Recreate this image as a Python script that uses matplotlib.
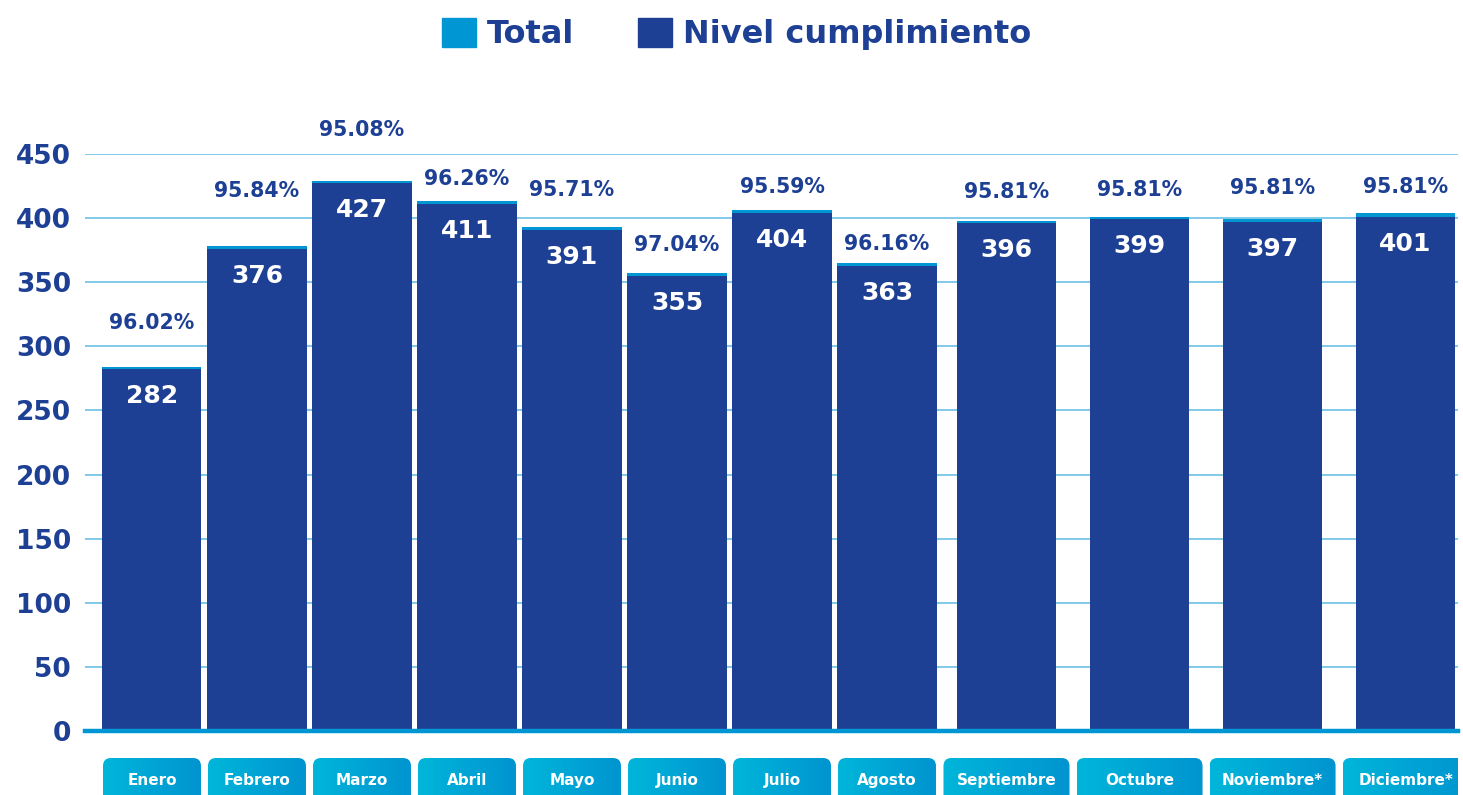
import numpy as np
import matplotlib.pyplot as plt
from matplotlib.patches import FancyBboxPatch, Patch
from matplotlib.colors import LinearSegmentedColormap

months = ["Enero", "Febrero", "Marzo", "Abril", "Mayo", "Junio", "Julio",
          "Agosto", "Septiembre", "Octubre", "Noviembre*", "Diciembre*"]
nivel = [282, 376, 427, 411, 391, 355, 404, 363, 396, 399, 397, 401]
total = [284, 378, 429, 413, 393, 357, 406, 365, 398, 401, 399, 404]
pct_labels = ["96.02%", "95.84%", "95.08%", "96.26%", "95.71%", "97.04%",
              "95.59%", "96.16%", "95.81%", "95.81%", "95.81%", "95.81%"]
yticks = [0, 50, 100, 150, 200, 250, 300, 350, 400, 450]

DARK = "#1d3f94"
LIGHT = "#0096d3"
GRID = "#5fbbe3"

plt.rcParams['font.family'] = ['DejaVu Sans']

# first eight months packed, last four spread out a bit more
x = np.arange(len(months), dtype=float)
x[8:] = 8.138 + 1.267 * np.arange(4)
bar_w = 0.943
box_w = np.where(np.arange(len(months)) < 8, 0.933, 1.2)
# how far (px) each percentage label sits above its bar
pct_pad = [44, 55, 51, 22, 37, 28, 23, 19, 29, 27, 31, 26]

fig = plt.figure(figsize=(14.63, 7.95), dpi=100)
ax = fig.add_axes([85 / 1463, 64 / 795, 1373 / 1463, 577 / 795])

ax.bar(x, total, width=bar_w, color=LIGHT, zorder=2)
ax.bar(x, nivel, width=bar_w, color=DARK, zorder=3)
ax.axhline(0, color=LIGHT, lw=3.2, zorder=4, clip_on=False)

for xi, v, t, p, pad in zip(x, nivel, total, pct_labels, pct_pad):
    ax.annotate(str(v), (xi, v), xytext=(0, -27 * 0.72), textcoords="offset points",
                ha="center", va="center", color="white", fontsize=18, fontweight="bold")
    ax.annotate(p, (xi, t), xytext=(0, pad * 0.72), textcoords="offset points",
                ha="center", va="center", color=DARK, fontsize=14.8, fontweight="bold",
                annotation_clip=False)

ax.set_xlim(-0.638, 12.438)
ax.set_ylim(0, 450)
ax.set_yticks(yticks)
ax.set_xticks([])
ax.yaxis.grid(True, color=GRID, lw=1.1)
ax.set_axisbelow(True)
ax.tick_params(axis="y", length=0, pad=10, labelsize=19, labelcolor=DARK)
for lab in ax.get_yticklabels():
    lab.set_fontweight("bold")
for s in ax.spines.values():
    s.set_visible(False)

# month boxes under the axis
axb = fig.add_axes([85 / 1463, 0, 1373 / 1463, 37 / 795])
cmap = LinearSegmentedColormap.from_list("box", ["#00b6da", "#0094d0"])
grad = np.linspace(0, 1, 256).reshape(1, -1)
for xi, w, m in zip(x, box_w, months):
    x0 = xi - w / 2
    patch = FancyBboxPatch((x0, -0.6), w, 1.6, boxstyle="round,pad=0,rounding_size=0.076",
                           mutation_aspect=105 / 37, facecolor="none", edgecolor="none",
                           clip_on=False)
    axb.add_patch(patch)
    im = axb.imshow(grad, extent=[x0, x0 + w, -0.6, 1], aspect="auto", cmap=cmap)
    im.set_clip_path(patch)
    axb.text(xi, 0.38, m, ha="center", va="center", color="white",
             fontsize=11, fontweight="bold")
axb.set_xlim(-0.638, 12.438)
axb.set_ylim(0, 1)
axb.axis("off")

fig.legend(handles=[Patch(color=LIGHT, label="Total"),
                    Patch(color=DARK, label="Nivel cumplimiento")],
           loc="upper center", bbox_to_anchor=(0.5034, 1.014), ncol=2, frameon=False,
           prop={"weight": "bold", "size": 23}, labelcolor=DARK,
           handlelength=1.05, handleheight=1.05, handletextpad=0.35, columnspacing=2.0)

fig.savefig("out.png", dpi=100)
